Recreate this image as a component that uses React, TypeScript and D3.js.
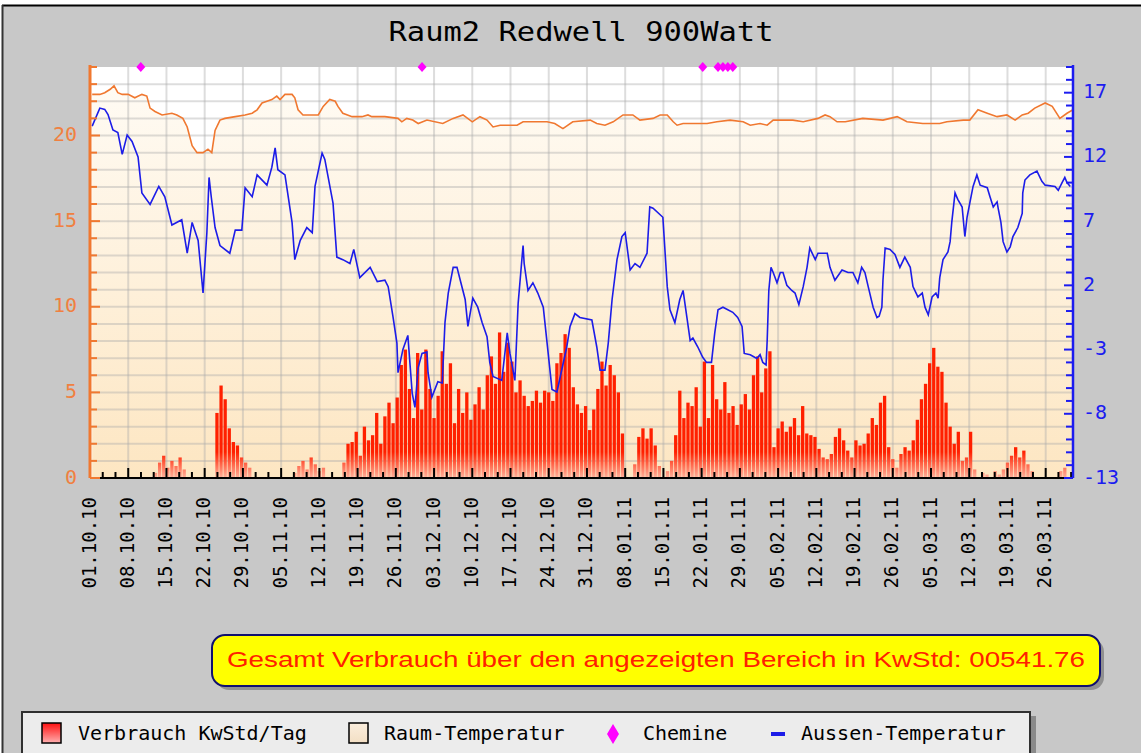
import React from 'react';
import * as d3 from 'd3';

// ---------- data ----------
const datumLabels = ['01.10.10','08.10.10','15.10.10','22.10.10','29.10.10','05.11.10','12.11.10','19.11.10','26.11.10','03.12.10','10.12.10','17.12.10','24.12.10','31.12.10','08.01.11','15.01.11','22.01.11','29.01.11','05.02.11','12.02.11','19.02.11','26.02.11','05.03.11','12.03.11','19.03.11','26.03.11'];

// Verbrauch KwStd/Tag, one value every 0.75 day starting 01.10.10
const verbrauch = [
  0,0,0,0,0,0,0,0,0,0,0,0,0,0,0,0,
  0.3,0.9,1.3,0.6,1.0,0.7,1.2,0.5,
  0,0,0,0,0,0,0,
  3.8,5.4,4.6,2.9,2.1,1.9,1.2,0.9,0.6,
  0,0,0,0,0,0,0,0,0,0,
  0.3,0.7,1.0,0.5,1.2,0.8,0.4,0.6,
  0,0,0,0,
  0.9,2.0,2.1,2.7,1.3,3.0,2.2,2.5,3.8,2.0,3.6,4.4,3.2,4.7,6.6,7.5,5.2,3.5,
  7.3,4.0,7.5,5.2,3.5,4.8,7.4,5.5,6.7,3.2,5.2,3.8,5.0,3.4,4.3,5.3,4.0,6.0,7.1,5.5,
  8.5,6.2,7.9,6.8,5.0,5.7,4.8,4.2,4.5,5.1,4.4,5.1,5.0,4.5,6.7,7.3,8.4,7.6,5.3,4.3,
  3.8,4.2,2.8,4.0,5.2,6.8,5.4,6.6,6.0,5.0,2.6,0,0,0.8,2.4,2.9,2.3,2.9,1.9,0.7,
  0,0.4,1.0,2.5,5.1,3.5,4.4,4.2,5.3,3.0,6.8,3.5,6.6,4.6,4.0,5.6,3.8,4.2,3.1,4.3,
  4.9,4.0,6.0,7.1,5.0,6.4,7.4,1.8,2.9,3.3,2.7,3.0,3.5,2.5,4.2,2.6,2.5,2.4,1.7,1.2,
  1.1,1.4,2.4,2.9,2.2,1.6,1.2,2.2,1.9,2.0,2.6,3.5,3.1,4.4,4.8,1.8,1.1,0.6,1.4,1.8,
  1.6,2.2,3.4,4.6,5.5,6.7,7.6,6.5,6.2,4.4,3.0,2.0,2.7,1.0,1.2,2.7,0.5,0,0.3,0.2,
  0,0.4,0.2,0.5,0.9,1.3,1.8,1.2,1.6,0.8,0.4,0,0,0,0,0,0,0.4,0.6,0
];
const verbrauchStep = 0.75;

// Raum-Temperatur (left axis), day offset from 01.10.10
const raumTag = [0.4,1.8,2.7,3.7,4.4,5.1,5.9,7.0,8.2,9.5,10.4,11.0,11.9,13.2,15.0,15.9,17.0,17.8,18.7,19.6,20.7,21.6,22.3,22.9,23.8,24.7,26.6,28.4,29.7,30.6,31.5,32.4,33.3,34.2,34.8,35.7,37.0,37.5,38.1,39.0,41.8,42.7,43.9,44.9,45.4,46.3,48.0,49.8,50.9,51.6,54.0,56.4,57.1,58.0,59.1,60.1,61.7,64.6,66.5,68.3,70.0,71.4,72.7,73.8,75.1,78.2,79.3,83.7,85.1,86.6,88.4,91.6,92.8,94.3,95.8,97.6,99.4,100.7,103.1,104.4,105.7,106.8,107.5,108.6,113.0,114.8,117.2,119.6,120.9,122.7,124.0,125.1,128.7,130.6,133.3,134.6,135.5,136.8,138.3,141.5,145.2,147.8,149.6,152.5,155.6,156.9,159.9,161.1,162.6,164.3,166.1,167.9,169.4,170.7,171.8,173.0,174.9,176.2,177.6,178.9,180.0];
const raumTemp = [22.4,22.4,22.5,22.7,22.9,22.5,22.4,22.4,22.2,22.4,22.3,21.6,21.4,21.2,21.3,21.2,21.0,20.5,19.4,19.0,19.0,19.2,19.0,20.3,20.9,21.0,21.1,21.2,21.3,21.5,21.9,22.0,22.1,22.3,22.1,22.4,22.4,22.2,21.5,21.2,21.2,21.7,22.1,22.0,21.7,21.3,21.1,21.1,21.2,21.1,21.1,21.0,20.8,21.0,20.9,20.7,20.9,20.7,21.0,21.2,20.8,21.1,20.9,20.5,20.6,20.6,20.8,20.8,20.7,20.4,20.8,20.9,20.7,20.6,20.8,21.2,21.2,20.9,21.0,21.2,21.2,20.8,20.6,20.7,20.7,20.8,20.9,20.8,20.6,20.7,20.6,20.9,20.9,20.8,21.0,21.2,21.1,20.8,20.8,21.0,20.9,21.1,20.8,20.7,20.7,20.8,20.9,20.9,21.5,21.3,21.1,21.2,20.9,21.2,21.3,21.6,21.9,21.7,21.0,21.3,21.5];

// Aussen-Temperatur (right axis)
const aussenTag = [0.4,1.8,2.7,3.3,4.2,5.1,5.9,6.8,7.7,8.8,9.5,11.0,12.6,13.7,15.0,16.8,17.8,18.7,19.8,20.7,21.4,21.8,22.2,22.9,23.8,25.6,26.6,27.8,28.4,29.7,30.6,32.4,33.3,33.9,34.4,35.7,37.0,37.5,38.5,39.7,40.7,41.2,42.5,43.0,44.5,45.2,46.3,47.6,48.3,49.4,51.3,52.6,54.0,54.6,55.5,56.2,56.4,57.3,58.2,59.0,59.5,60.1,60.8,61.7,61.9,62.6,63.7,64.5,65.0,65.6,66.5,67.2,67.8,68.7,69.2,70.1,71.0,71.8,72.7,73.2,73.8,75.4,76.4,76.9,77.8,78.4,79.3,79.5,80.2,81.1,82.0,83.0,83.7,84.6,85.5,87.3,87.9,88.8,89.7,91.9,92.8,93.4,94.3,94.9,95.6,96.5,97.4,98.0,98.9,99.8,100.7,102.0,102.5,103.1,104.9,105.7,106.2,107.1,108.0,108.6,109.3,109.9,110.4,111.3,112.2,112.9,113.8,114.4,115.0,115.9,117.7,118.6,119.4,119.8,120.9,122.1,122.7,123.2,123.8,124.0,124.3,124.7,125.1,125.8,126.4,126.9,127.6,128.5,129.1,129.8,130.6,131.3,131.8,132.8,133.3,135.0,135.5,136.4,137.7,138.8,139.7,140.6,141.3,141.9,142.5,143.4,144.1,144.5,145.0,145.2,145.6,146.5,147.4,148.3,149.2,150.2,150.7,151.6,152.4,152.9,153.5,154.2,154.9,155.3,155.6,156.2,157.1,157.5,157.8,158.4,158.9,159.7,160.2,160.6,161.1,161.7,162.4,163.0,164.3,164.8,165.4,166.1,166.3,166.8,167.2,167.9,168.5,169.0,169.9,170.7,170.8,171.2,172.1,173.4,174.3,174.9,176.7,177.3,178.0,178.5,178.9,179.5];
const aussenTemp = [14.4,15.8,15.7,15.3,14.1,13.9,12.2,13.7,13.2,12.0,9.2,8.3,9.7,8.9,6.7,7.1,4.5,6.9,5.5,1.4,6.1,10.4,8.9,6.5,5.1,4.5,6.3,6.3,9.6,8.9,10.6,9.8,11.2,12.7,11.0,10.6,6.9,4.0,5.5,6.5,6.1,9.7,12.3,11.8,8.4,4.2,4.0,3.7,4.8,2.6,3.4,2.3,2.4,1.9,-0.5,-2.5,-4.8,-3.0,-1.9,-6.4,-7.5,-4.4,-3.3,-3.2,-4.8,-6.7,-5.5,-5.6,-0.9,1.4,3.4,3.4,2.4,0.9,-1.2,1.0,0.3,-0.9,-2.0,-4.0,-5.1,-5.4,-1.7,-3.3,-5.4,0.6,5.1,3.7,1.6,2.2,1.4,0.3,-2.5,-6.1,-6.3,-2.8,-1.2,-0.2,-0.5,-0.7,-2.8,-4.6,-4.6,-2.5,0.9,4.0,5.8,6.1,3.2,3.7,3.4,4.5,8.1,8.0,7.3,1.9,0.1,-0.9,0.9,1.6,-0.5,-2.3,-2.1,-2.8,-3.6,-4.0,-4.0,-1.7,0.1,0.3,-0.1,-0.5,-1.2,-3.3,-3.4,-3.7,-3.4,-4.0,-4.2,-2.3,1.6,3.4,3.0,2.2,3.0,3.0,2.0,1.6,1.4,0.5,1.9,3.4,4.9,4.0,4.5,4.5,3.4,2.4,3.2,3.0,3.0,2.2,3.4,3.0,1.9,0.3,-0.5,-0.4,0.3,2.4,4.9,4.8,4.4,3.4,4.2,3.4,1.9,1.1,1.4,0.3,-0.3,1.1,1.4,1.0,2.6,4.0,4.6,5.4,6.9,9.2,8.7,8.1,5.8,7.3,8.4,9.7,10.6,9.8,9.6,8.9,8.1,8.5,8.0,6.9,5.4,4.6,5.0,5.8,6.5,7.6,9.2,10.2,10.6,10.9,10.1,9.8,9.7,9.4,10.0,10.4,10.0,9.7];

// Chemine (fireplace) events, day offsets
const chemineTag = [9.3, 60.8, 112.2, 115.0, 115.9, 116.8, 117.7];

const titel = 'Raum2 Redwell 900Watt';
const gesamtText = 'Gesamt Verbrauch über den angezeigten Bereich in KwStd: 00541.76';
const legendItems = ['Verbrauch KwStd/Tag', 'Raum-Temperatur', 'Chemine', 'Aussen-Temperatur'];

const W = 1141, H = 753;
const PL = 90, PR = 1073, PT = 67, PB = 478;
const mono = "'DejaVu Sans Mono', monospace";

export default function App() {
  const x = d3.scaleLinear().domain([0, 180]).range([PL, PR]);
  const yL = d3.scaleLinear().domain([0, 24]).range([PB, PT]);
  const yR = d3.scaleLinear().domain([-13, 19]).range([PB, PT]);

  const area = d3.area<number>().x((d, i) => x(raumTag[i])).y0(yL(0)).y1(d => yL(d));
  const raumLine = d3.line<number>().x((d, i) => x(raumTag[i])).y(d => yL(d));
  const aussenLine = d3.line<number>().x((d, i) => x(aussenTag[i])).y(d => yR(d));

  const hGrid = d3.range(1, 24);
  const vGrid = d3.range(7, 180, 7);
  const leftTicks = d3.range(0, 25);
  const rightTicks = d3.range(-13, 20);
  const bottomTicks = d3.range(1, 78);
  const bw = 3.3;

  return (
    <svg width={W} height={H} style={{ position: 'absolute', left: 0, top: 0 }}>
      <defs>
        <linearGradient id="areaGrad" gradientUnits="userSpaceOnUse" x1="0" y1={PT} x2="0" y2={PB}>
          <stop offset="0" stopColor="#fffcf6" />
          <stop offset="1" stopColor="#fde6c2" />
        </linearGradient>
        <linearGradient id="barGrad" gradientUnits="userSpaceOnUse" x1="0" y1={PB - 26} x2="0" y2={PB}>
          <stop offset="0" stopColor="#ff2000" />
          <stop offset="1" stopColor="#ffb29c" />
        </linearGradient>
        <linearGradient id="legRed" x1="0" y1="0" x2="0" y2="1">
          <stop offset="0" stopColor="#ff1010" />
          <stop offset="1" stopColor="#ffb0b0" />
        </linearGradient>
        <linearGradient id="legBeige" x1="0" y1="0" x2="0" y2="1">
          <stop offset="0" stopColor="#fbeedd" />
          <stop offset="1" stopColor="#f3dfc4" />
        </linearGradient>
        <clipPath id="plotClip"><rect x={PL} y={PT} width={PR - PL} height={PB - PT} /></clipPath>
      </defs>

      <rect x={0} y={0} width={W} height={H} fill="#ffffff" />
      <rect x={2} y={5} width={W - 2} height={H - 5} fill="#c8c8c8" />
      <line x1={2} y1={5.5} x2={W} y2={5.5} stroke="#000" strokeWidth={2} />
      <line x1={2.5} y1={5} x2={2.5} y2={H} stroke="#333" strokeWidth={2} />

      <text x={581} y={41} fontFamily={mono} fontSize={27} textAnchor="middle" fill="#000" textLength={385} lengthAdjust="spacingAndGlyphs">{titel}</text>

      {/* plot */}
      <rect x={PL} y={PT} width={PR - PL} height={PB - PT} fill="#ffffff" />
      <g clipPath="url(#plotClip)">
        <path d={area(raumTemp) || ''} fill="url(#areaGrad)" />
        {hGrid.map(v => (
          <line key={'h' + v} x1={PL} x2={PR} y1={yL(v)} y2={yL(v)} stroke="rgba(170,170,170,0.4)" strokeWidth={2} />
        ))}
        {vGrid.map(d => (
          <line key={'v' + d} x1={x(d)} x2={x(d)} y1={PT} y2={PB} stroke="rgba(170,170,170,0.4)" strokeWidth={2} />
        ))}
        {verbrauch.map((v, i) => v > 0 ? (
          <rect key={'b' + i} x={x(i * verbrauchStep) - bw / 2} y={yL(v)} width={bw} height={yL(0) - yL(v)} fill="url(#barGrad)" />
        ) : null)}
        <path d={raumLine(raumTemp) || ''} fill="none" stroke="#f07830" strokeWidth={1.6} />
        <path d={aussenLine(aussenTemp) || ''} fill="none" stroke="#1c1ce8" strokeWidth={1.6} />
      </g>
      {chemineTag.map((d, i) => (
        <path key={'c' + i} d={`M${x(d)},${PT - 5}L${x(d) + 4.5},${PT}L${x(d)},${PT + 5}L${x(d) - 4.5},${PT}Z`} fill="#ff00ff" />
      ))}

      {/* bottom axis */}
      <line x1={PL} x2={PR} y1={PB} y2={PB} stroke="#000" strokeWidth={2} />
      {bottomTicks.map(k => (
        <line key={'bt' + k} x1={x(k * 7 / 3)} x2={x(k * 7 / 3)} y1={PB} y2={PB - (k % 3 === 0 ? 10 : 6)} stroke="#000" strokeWidth={2} />
      ))}
      {datumLabels.map((lab, k) => (
        <text key={'xl' + k} transform={`translate(${x(k * 7)},497) rotate(-90)`} fontFamily={mono} fontSize={19} textAnchor="end" dominantBaseline="middle" fill="#000">{lab}</text>
      ))}

      {/* left axis */}
      <line x1={PL} x2={PL} y1={PT - 2} y2={PB} stroke="#f07830" strokeWidth={3} />
      {leftTicks.map(v => (
        <line key={'lt' + v} x1={PL} x2={PL + (v % 5 === 0 ? 10 : 7)} y1={yL(v)} y2={yL(v)} stroke="#f07830" strokeWidth={2} />
      ))}
      {[0, 5, 10, 15, 20].map(v => (
        <text key={'ll' + v} x={77} y={yL(v)} fontFamily={mono} fontSize={20} textAnchor="end" dominantBaseline="middle" fill="#f08040">{v}</text>
      ))}

      {/* right axis */}
      <line x1={PR} x2={PR} y1={PT - 2} y2={PB} stroke="#1c1cf0" strokeWidth={2.5} />
      {rightTicks.map(v => (
        <line key={'rt' + v} x1={PR} x2={PR - ((v + 13) % 5 === 0 ? 9 : 7)} y1={yR(v)} y2={yR(v)} stroke="#1c1cf0" strokeWidth={2} />
      ))}
      {[-13, -8, -3, 2, 7, 12, 17].map(v => (
        <text key={'rl' + v} x={1083} y={yR(v)} fontFamily={mono} fontSize={20} textAnchor="start" dominantBaseline="middle" fill="#1c1cf0">{v}</text>
      ))}

      {/* total box */}
      <rect x={216} y={639} width={888} height={51} rx={13} fill="#909090" />
      <rect x={212} y={635} width={888} height={51} rx={13} fill="#ffff00" stroke="#101070" strokeWidth={2} />
      <text x={656} y={661} fontFamily="'Liberation Sans', Arial, sans-serif" fontSize={22} textAnchor="middle" dominantBaseline="middle" fill="#ff2000" textLength={858} lengthAdjust="spacingAndGlyphs">{gesamtText}</text>

      {/* legend */}
      <rect x={26} y={716} width={1010} height={45} fill="#8a8a8a" />
      <rect x={22} y={712} width={1008} height={45} fill="#ececec" stroke="#303030" strokeWidth={2} />
      <rect x={42} y={723} width={19} height={20} fill="url(#legRed)" stroke="#000" strokeWidth={1.5} />
      <text x={78} y={734} fontFamily={mono} fontSize={20} dominantBaseline="middle" fill="#000">{legendItems[0]}</text>
      <rect x={349} y={723} width={19} height={20} fill="url(#legBeige)" stroke="#000" strokeWidth={1.5} />
      <text x={384} y={734} fontFamily={mono} fontSize={20} dominantBaseline="middle" fill="#000">{legendItems[1]}</text>
      <path d="M613,724L619,734L613,744L607,734Z" fill="#ff00ff" />
      <text x={643} y={734} fontFamily={mono} fontSize={20} dominantBaseline="middle" fill="#000">{legendItems[2]}</text>
      <rect x={771} y={732} width={14} height={4} fill="#1c1ce8" />
      <text x={801} y={734} fontFamily={mono} fontSize={20} dominantBaseline="middle" fill="#000">{legendItems[3]}</text>
    </svg>
  );
}
